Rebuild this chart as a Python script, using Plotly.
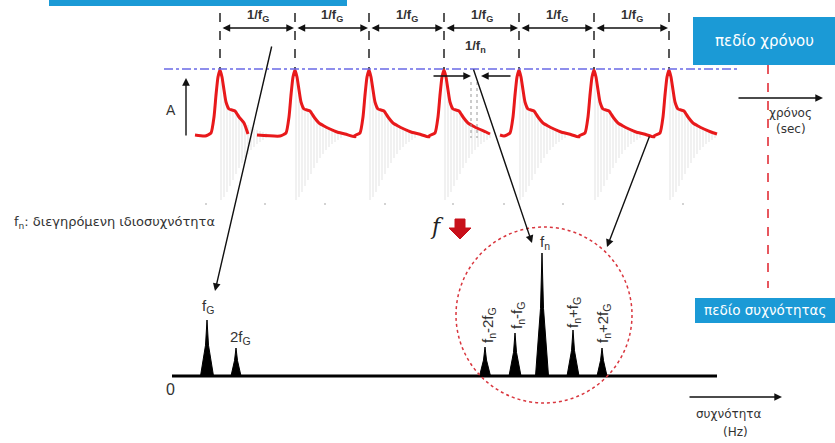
import plotly.graph_objects as go

# ---------------- data ----------------
# time-domain pulse peak positions (one per impact, spacing = 1/fG)
peak_t = [220, 295, 369, 444, 519, 594, 669]
# pulse template: offset from peak, height above baseline
pulse_dx = [-15, -9, -6, -4, -2, 0, 2, 4, 6, 9, 12, 15, 19, 24, 29, 35, 42, 50, 60]
pulse_h = [-1, 2, 18, 40, 58, 65, 58, 45, 33, 26, 25, 24, 18, 12, 9, 6, 3, 1, -2]
# continuous red trace pieces (start, end, peaks included)
seg_start = [195, 257, 500]
seg_end = [248, 490, 717]
seg_peaks = [[0], [1, 2, 3], [4, 5, 6]]
# grey ringing (offset, upper, lower)
osc_dx = [1, 4, 7, 10, 13, 16, 19, 22, 25, 28, 31, 34, 37, 40, 43, 46]
osc_top = [80, 95, 105, 108, 110, 113, 116, 120, 123, 125, 127, 129, 130, 131, 132, 133]
osc_low = [200, 197, 192, 186, 180, 174, 168, 163, 158, 154, 150, 147, 144, 142, 140, 138]
dots_x = [206, 265, 325, 385, 453, 504, 563, 683]

# spectrum
spec_f = [207, 236, 485, 515, 542, 573, 602]
spec_amp = [56, 28, 29, 43, 123, 46, 28]
spec_halfw = [6.5, 5, 5.5, 6, 6.5, 6, 5]
spec_labels = ["f<sub>G</sub>", "2f<sub>G</sub>", "f<sub>n</sub>-2f<sub>G</sub>", "f<sub>n</sub>-f<sub>G</sub>",
               "f<sub>n</sub>", "f<sub>n</sub>+f<sub>G</sub>", "f<sub>n</sub>+2f<sub>G</sub>"]

# ---------------- layout constants ----------------
BASE_T = 135
BASE_F = 376
TXT = "#333333"
FONT = "Liberation Sans, Arial, sans-serif"
GFONT = "DejaVu Sans, sans-serif"
BLUE = "#1b9ad6"
RED = "#e8191b"

fig = go.Figure()

# grey ringing
gx, gy = [], []
for p in peak_t:
    for dx, t, l in zip(osc_dx, osc_top, osc_low):
        gx += [p + dx, p + dx, None]
        gy += [t, l, None]
fig.add_trace(go.Scatter(x=gx, y=gy, mode="lines", line=dict(color="#dcdcdc", width=0.8), hoverinfo="skip"))
fig.add_trace(go.Scatter(x=dots_x, y=[204] * len(dots_x), mode="markers",
                         marker=dict(color="#c4c4c4", size=2), hoverinfo="skip"))

# red time signal
for s, e, pk in zip(seg_start, seg_end, seg_peaks):
    xs, ys = [s], [BASE_T]
    for i in pk:
        for dx, h in zip(pulse_dx, pulse_h):
            x = peak_t[i] + dx
            if s < x < e:
                xs.append(x)
                ys.append(BASE_T - h)
    xs.append(e)
    ys.append(BASE_T - 1)
    fig.add_trace(go.Scatter(x=xs, y=ys, mode="lines", line=dict(color=RED, width=3, shape="spline", smoothing=0.5),
                             hoverinfo="skip"))

# dimension dashed verticals
for p in peak_t:
    fig.add_shape(type="line", x0=p, x1=p, y0=13, y1=69, line=dict(color="#222222", width=1.5, dash="dash"))

# blue dash-dot amplitude line
fig.add_shape(type="line", x0=164, x1=740, y0=69, y1=69, line=dict(color="#6a6ae6", width=1.5, dash="dashdot"))

# spectrum axis
fig.add_shape(type="line", x0=172, x1=717, y0=BASE_F, y1=BASE_F, line=dict(color="black", width=3))

# spectrum spikes
for f, a, w in zip(spec_f, spec_amp, spec_halfw):
    fig.add_trace(go.Scatter(x=[f - w, f - 1.5, f, f + 1.5, f + w], y=[BASE_F, BASE_F - a * 0.55, BASE_F - a, BASE_F - a * 0.55, BASE_F],
                             fill="toself", fillcolor="black", mode="lines", line=dict(color="black", width=1),
                             hoverinfo="skip"))

# red dotted circle
fig.add_shape(type="circle", x0=456, x1=632, y0=227, y1=403, line=dict(color="#d9363e", width=1.5, dash="dot"))

# blue boxes
fig.add_shape(type="rect", x0=49, x1=347, y0=-2, y1=6, fillcolor=BLUE, line=dict(width=0))
fig.add_shape(type="rect", x0=693, x1=836, y0=17, y1=65, fillcolor=BLUE, line=dict(width=0))
fig.add_shape(type="rect", x0=695, x1=836, y0=298, y1=323, fillcolor=BLUE, line=dict(width=0))

# red dashed line between domains
fig.add_shape(type="line", x0=768, x1=768, y0=65, y1=288, line=dict(color="#e0202a", width=1.5, dash="dash"))

# red block arrow
fig.add_trace(go.Scatter(x=[455, 465, 465, 471, 460, 449, 455, 455], y=[219, 219, 228, 228, 239, 228, 228, 219],
                         fill="toself", fillcolor="#c8101a", mode="lines", line=dict(color="#c8101a", width=1),
                         hoverinfo="skip"))

ann = []


def arrow(x, y, ax, ay, both=False, w=1.4, color="#111111", size=1.1):
    ann.append(dict(x=x, y=y, ax=ax, ay=ay, xref="x", yref="y", axref="x", ayref="y", text="",
                    showarrow=True, arrowhead=2, arrowsize=size, arrowwidth=w, arrowcolor=color,
                    arrowside="end+start" if both else "end", standoff=0, startstandoff=0))


def text(x, y, t, size=12, color=TXT, angle=0, xanchor="center", family=FONT):
    ann.append(dict(x=x, y=y, xref="x", yref="y", text=t, showarrow=False, textangle=angle,
                    font=dict(size=size, color=color, family=family), xanchor=xanchor, yanchor="middle"))


# 1/fG dimensions
for a, b in zip(peak_t[:-1], peak_t[1:]):
    arrow(b - 1, 28, a + 1, 28, both=True)
    text((a + b) / 2, 15, "<b>1/f<sub>G</sub></b>", size=13)

# 1/fn
arrow(471, 76, 432, 76)
arrow(481, 76, 512, 76)
text(475, 46, "<b>1/f<sub>n</sub></b>", size=13)
for xx in [471, 477]:
    fig.add_shape(type="line", x0=xx, x1=xx, y0=82, y1=138, line=dict(color="#999999", width=1, dash="dot"))

# A arrow
arrow(186, 78, 186, 137)
text(171, 110, "A", size=14)

# time / frequency arrows
arrow(823, 98, 737, 98)
text(790, 113, "χρόνος", size=12, family=GFONT)
text(791, 129, "(sec)", size=12, family=GFONT)
arrow(782, 397, 688, 397)
text(729, 414, "συχνότητα", size=12, family=GFONT)
text(735, 432, "(Hz)", size=12, family=GFONT)

# diagonal arrows
arrow(215, 291, 272, 45)
arrow(532, 243, 473, 68)
arrow(607, 247, 650, 135)

# box labels
text(764, 41, "πεδίο χρόνου", size=15, color="white", family=GFONT)
text(765, 310, "πεδίο συχνότητας", size=13.5, color="white", family=GFONT)

# notes
text(12, 222, "f<sub>n</sub>: διεγηρόμενη ιδιοσυχνότητα", size=13, xanchor="left", family=GFONT)
text(170, 389, "0", size=16)
text(437, 226, "<i>f</i>", size=22, color="#222222", family="DejaVu Serif, serif")

# spectrum labels
text(spec_f[0] + 1, 306, spec_labels[0], size=15)
text(spec_f[1] + 4, 337, spec_labels[1], size=15)
text(spec_f[4] + 3, 242, spec_labels[4], size=15)
text(488, 325, spec_labels[2], size=15, angle=-90)
text(517, 316, spec_labels[3], size=15, angle=-90)
text(573, 313, spec_labels[5], size=15, angle=-90)
text(603, 324, spec_labels[6], size=15, angle=-90)

fig.update_layout(
    width=835, height=443, margin=dict(l=0, r=0, t=0, b=0),
    paper_bgcolor="white", plot_bgcolor="white", showlegend=False,
    xaxis=dict(range=[0, 835], visible=False, fixedrange=True),
    yaxis=dict(range=[443, 0], visible=False, fixedrange=True),
    annotations=ann,
)

fig.write_html("out.html")
